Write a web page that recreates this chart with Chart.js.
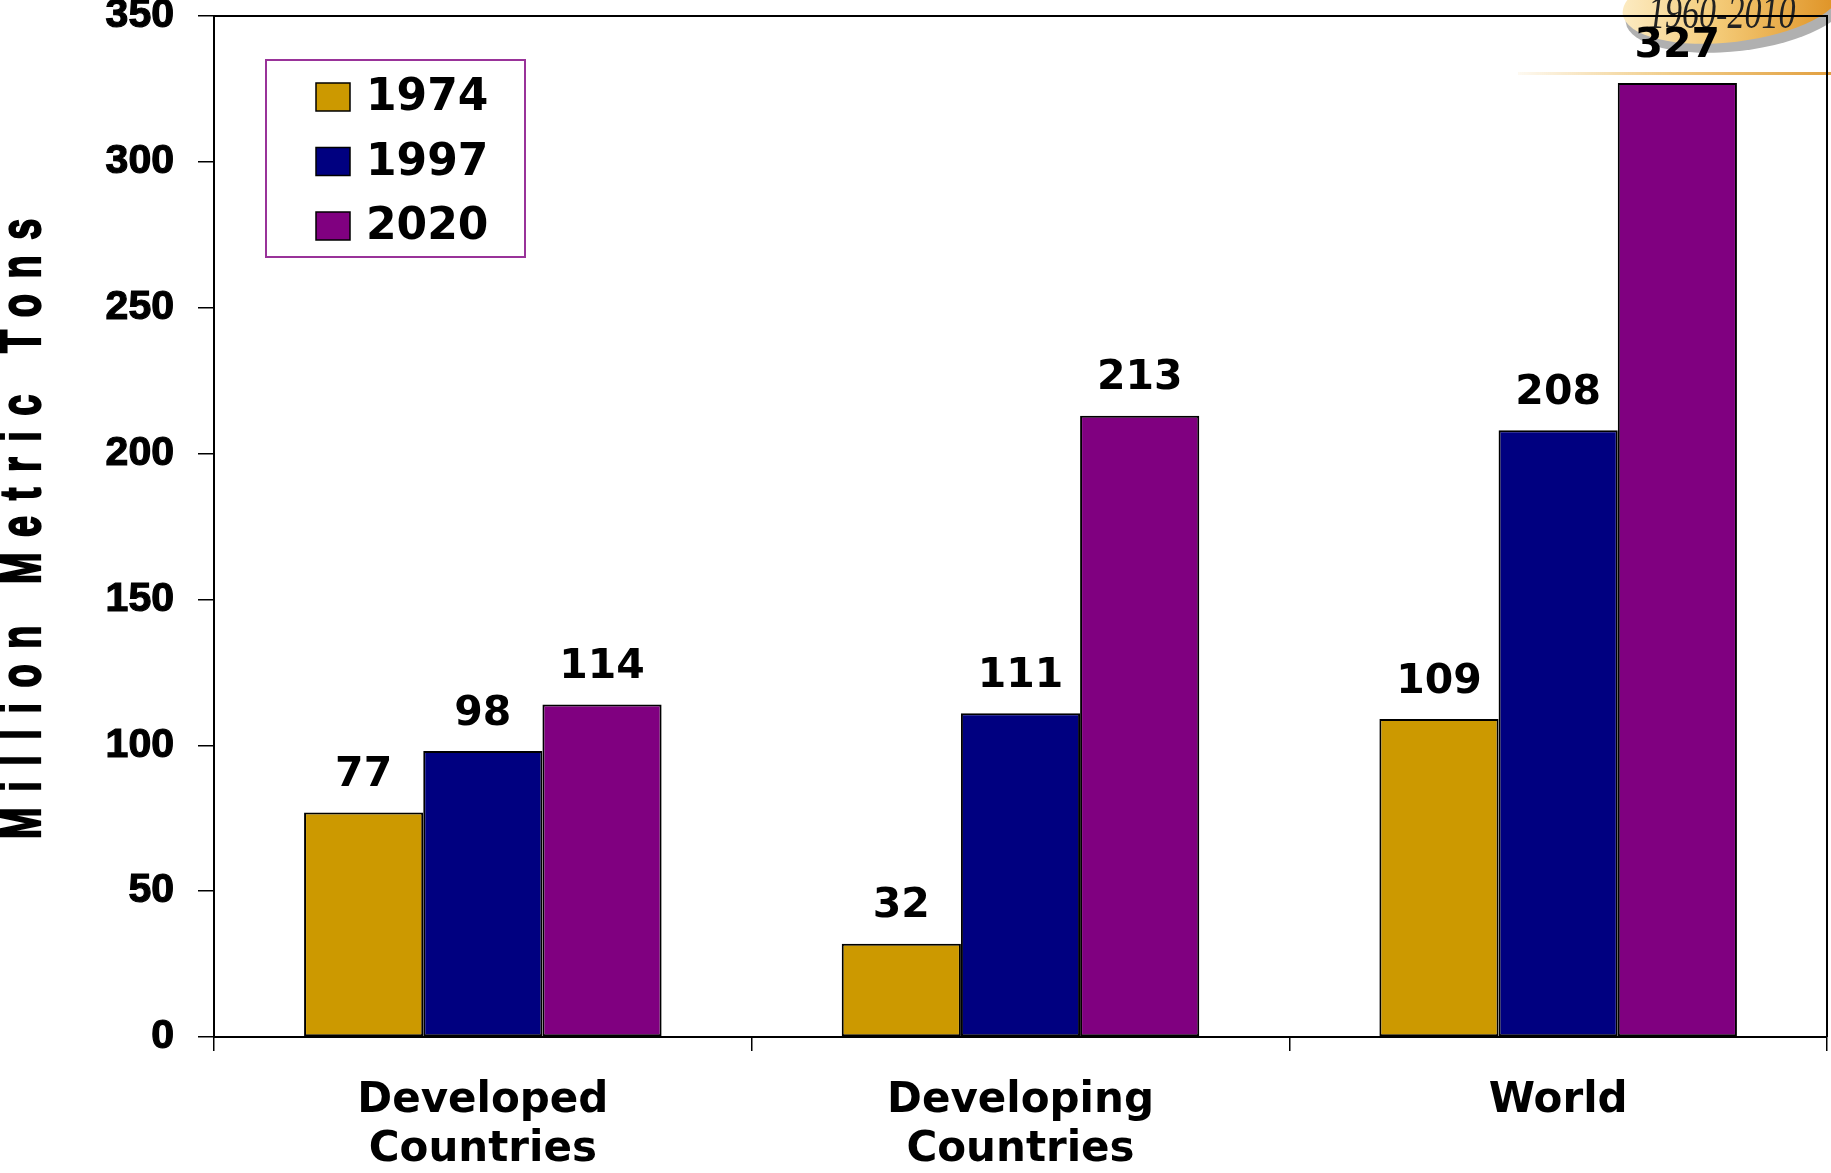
<!DOCTYPE html>
<html>
<head>
<meta charset="utf-8">
<title>Million Metric Tons</title>
<script src="https://cdn.jsdelivr.net/npm/chart.js@4/dist/chart.umd.min.js"></script>
<style>
  html, body { margin:0; padding:0; background:#fff; }
  #wrap { width:1831px; height:1173px; position:relative; }
</style>
</head>
<body>
<div id="wrap"><canvas id="chart"></canvas></div>
<script>
/* ── data ── */
const CATEGORIES    = [['Developed','Countries'], ['Developing','Countries'], ['World']];
const SERIES_LABELS = ['1974', '1997', '2020'];
const VALUES_1974   = [77, 32, 109];
const VALUES_1997   = [98, 111, 208];
const VALUES_2020   = [114, 213, 327];
const Y_MIN = 0, Y_MAX = 350, Y_STEP = 50;
const Y_TITLE = 'Million Metric Tons';
const BADGE_TEXT = '1960-2010';

const COLORS = ['#CC9900', '#000080', '#800080'];
const ARIAL = '"Liberation Sans", Arial, sans-serif';
const WIDE  = '"DejaVu Sans", Verdana, sans-serif';

/* ── plugins ── */
const badgePlugin = {
  id:'badge',
  beforeDraw(chart) {
    const ctx = chart.ctx;
    ctx.save();
    // grey shadow of the swoosh
    ctx.beginPath();
    ctx.ellipse(1737, 9, 112, 42, -0.12, 0, Math.PI*2);
    ctx.fillStyle = '#B0B0B0';
    ctx.fill();
    // gold swoosh
    const g = ctx.createLinearGradient(1625, 0, 1830, 0);
    g.addColorStop(0, '#FCEAC0');
    g.addColorStop(0.45, '#F4CB78');
    g.addColorStop(1, '#E0962A');
    ctx.beginPath();
    ctx.ellipse(1732, 1, 110, 41, -0.12, 0, Math.PI*2);
    ctx.fillStyle = g;
    ctx.fill();
    // thin gold rule
    const lg = ctx.createLinearGradient(1518, 0, 1831, 0);
    lg.addColorStop(0, 'rgba(240,200,120,0.1)');
    lg.addColorStop(0.5, '#F0CC88');
    lg.addColorStop(1, '#E2A040');
    ctx.fillStyle = lg;
    ctx.fillRect(1518, 72, 313, 3);
    // badge text
    ctx.translate(1648, 28);
    ctx.scale(0.92, 1.25);
    ctx.font = 'italic 37px "Liberation Serif", serif';
    ctx.fillStyle = '#222';
    ctx.textAlign = 'left';
    ctx.textBaseline = 'alphabetic';
    ctx.fillText(BADGE_TEXT, 0, 0);
    ctx.restore();
  }
};

const framePlugin = {
  id:'frame',
  afterDatasetsDraw(chart) {
    const {ctx, chartArea:a} = chart;
    ctx.save();
    ctx.strokeStyle = '#000';
    ctx.lineWidth = 2;
    ctx.beginPath();
    ctx.moveTo(a.left, a.top);
    ctx.lineTo(a.right, a.top);
    ctx.lineTo(a.right, a.bottom);
    ctx.stroke();
    ctx.restore();
  }
};

const valueLabelPlugin = {
  id:'valueLabels',
  afterDatasetsDraw(chart) {
    const ctx = chart.ctx;
    ctx.save();
    ctx.font = 'bold 41px ' + WIDE;
    ctx.fillStyle = '#000';
    ctx.textAlign = 'center';
    ctx.textBaseline = 'middle';
    chart.data.datasets.forEach((ds, i) => {
      chart.getDatasetMeta(i).data.forEach((bar, j) => {
        ctx.fillText(String(ds.data[j]), bar.x, bar.y - 37);
      });
    });
    ctx.restore();
  }
};

const legendBoxPlugin = {
  id:'legendBox',
  afterDraw(chart) {
    const ctx = chart.ctx;
    ctx.save();
    ctx.strokeStyle = '#993399';
    ctx.lineWidth = 2;
    ctx.fillStyle = '#fff';
    ctx.fillRect(266, 60, 259, 197);
    ctx.strokeRect(266, 60, 259, 197);
    ctx.font = 'bold 44px ' + WIDE;
    ctx.textAlign = 'left';
    ctx.textBaseline = 'middle';
    chart.data.datasets.forEach((ds, i) => {
      const cy = 97 + i * 64.5;
      ctx.fillStyle = ds.backgroundColor;
      ctx.fillRect(316, cy - 14, 34, 28);
      ctx.strokeStyle = '#000';
      ctx.lineWidth = 1.5;
      ctx.strokeRect(316, cy - 14, 34, 28);
      ctx.fillStyle = '#000';
      ctx.fillText(ds.label, 366, cy + 2);
    });
    ctx.restore();
  }
};

const yTitlePlugin = {
  id:'yTitle',
  afterDraw(chart) {
    const ctx = chart.ctx;
    ctx.save();
    ctx.translate(24, 529);
    ctx.rotate(-Math.PI/2);
    ctx.scale(1, 1.5);
    ctx.font = 'bold 38px ' + ARIAL;
    ctx.letterSpacing = '15.5px';
    ctx.fillStyle = '#000';
    ctx.strokeStyle = '#000';
    ctx.lineWidth = 1.5;
    ctx.textAlign = 'center';
    ctx.textBaseline = 'middle';
    ctx.fillText(Y_TITLE, 8, 0);
    ctx.strokeText(Y_TITLE, 8, 0);
    ctx.restore();
  }
};

/* ── chart ── */
function buildChart() {
  const ctx = document.getElementById('chart').getContext('2d');
  const series = [VALUES_1974, VALUES_1997, VALUES_2020];
  new Chart(ctx, {
    type:'bar',
    data:{
      labels: CATEGORIES,
      datasets: SERIES_LABELS.map((lbl, i) => ({
        label: lbl, data: series[i], backgroundColor: COLORS[i],
        borderColor:'#000', borderWidth:2, borderSkipped:false,
        categoryPercentage:0.665, barPercentage:1.0
      }))
    },
    options:{
      responsive:true, maintainAspectRatio:false, animation:false, devicePixelRatio:1,
      layout:{ padding:{ top:16, right:4, left:0, bottom:0 } },
      plugins:{ legend:{ display:false }, tooltip:{ enabled:false } },
      scales:{
        x:{
          grid:{ offset:true, drawOnChartArea:false, tickLength:14, color:'#000', lineWidth:1.5 },
          border:{ color:'#000', width:2 },
          ticks:{ color:'#000', font:{ family:WIDE, size:42, weight:'bold', lineHeight:1.16 }, padding:26, maxRotation:0, autoSkip:false },
          afterFit(s){ s.height = 136; s.paddingLeft = 0; s.paddingRight = 0; }
        },
        y:{
          min:Y_MIN, max:Y_MAX,
          grid:{ drawOnChartArea:false, tickLength:16, color:'#000', lineWidth:1.5 },
          border:{ color:'#000', width:2 },
          ticks:{ stepSize:Y_STEP, color:'#000', font:{ family:ARIAL, size:41, weight:'bold' }, padding:24,
                  textStrokeColor:'#000', textStrokeWidth:1.2 },
          afterFit(s){ s.width = 214; s.paddingTop = 0; s.paddingBottom = 0; }
        }
      }
    },
    plugins:[badgePlugin, framePlugin, valueLabelPlugin, legendBoxPlugin, yTitlePlugin]
  });
}

window.addEventListener('DOMContentLoaded', buildChart);
</script>
</body>
</html>
